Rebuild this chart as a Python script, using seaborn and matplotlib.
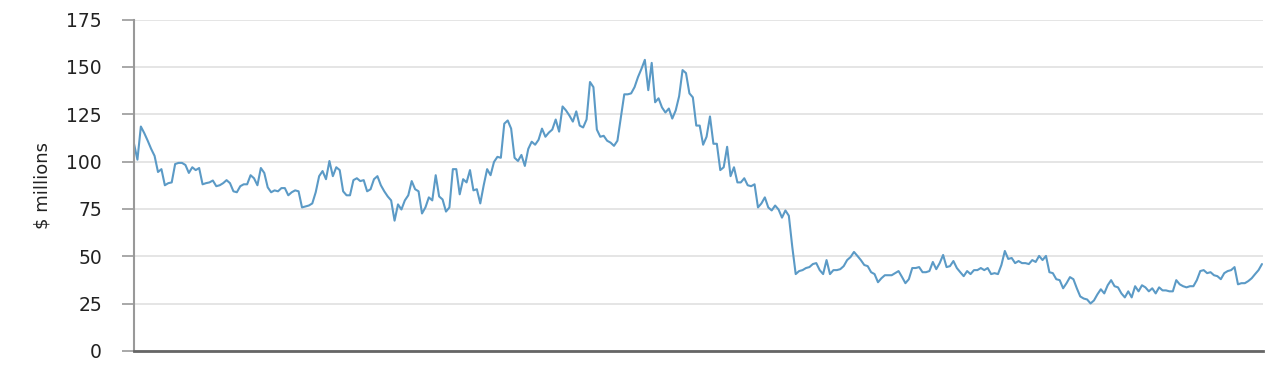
import matplotlib
matplotlib.use("Agg")
import matplotlib.pyplot as plt
import seaborn as sns
import pandas as pd
import numpy as np

values = [
    109.4, 101.0, 118.5, 115.0, 111.0, 106.7, 103.0, 94.5, 96.0, 87.5,
    88.6, 89.0, 98.7, 99.3, 99.3, 98.2, 94.0, 97.0, 95.5, 96.6,
    88.0, 88.6, 89.0, 90.0, 87.0, 87.5, 88.6, 90.2, 88.6, 84.3,
    83.8, 87.0, 88.0, 88.0, 92.8, 91.2, 87.5, 96.6, 94.0, 86.4,
    83.8, 84.8, 84.3, 86.0, 86.0, 82.2, 83.8, 84.8, 84.3, 75.8,
    76.3, 76.8, 77.9, 83.8, 92.3, 95.0, 90.7, 100.3, 92.3, 97.0,
    95.5, 84.3, 82.2, 82.2, 90.2, 91.2, 89.7, 90.2, 84.3, 85.4,
    90.7, 92.3, 87.5, 84.3, 81.6, 79.5, 68.8, 77.4, 74.7, 79.5,
    82.2, 89.7, 85.4, 84.3, 72.6, 75.8, 81.1, 79.5, 92.8, 81.6,
    80.0, 73.6, 75.8, 96.0, 96.0, 82.7, 90.7, 89.0, 95.5, 84.8,
    85.4, 77.9, 87.5, 96.0, 92.8, 99.8, 102.5, 102.0, 120.0, 121.7,
    117.4, 102.0, 100.3, 103.5, 97.7, 106.7, 110.5, 108.9, 111.5, 117.4,
    113.1, 115.3, 116.9, 122.2, 115.8, 129.1, 127.0, 124.3, 121.1, 126.5,
    119.0, 118.0, 122.2, 142.0, 139.3, 116.9, 113.1, 113.6, 111.0, 110.0,
    108.3, 111.0, 123.3, 135.5, 135.5, 136.0, 139.3, 144.6, 148.9, 153.7,
    137.7, 152.1, 131.3, 133.4, 128.6, 125.9, 128.0, 122.7, 127.0, 134.5,
    148.3, 146.7, 136.0, 133.9, 119.0, 119.0, 108.9, 113.1, 123.8, 109.4,
    109.4, 95.5, 97.0, 107.8, 92.3, 97.0, 89.0, 89.0, 91.2, 87.5,
    87.0, 88.0, 75.8, 77.9, 81.1, 75.8, 74.2, 76.8, 74.7, 70.4,
    74.2, 71.4, 55.0, 40.6, 42.2, 42.7, 43.8, 44.3, 45.9, 46.4,
    42.7, 40.6, 48.0, 40.6, 42.7, 42.7, 43.2, 44.8, 48.0, 49.6,
    52.3, 50.2, 48.0, 45.4, 44.8, 41.6, 40.6, 36.3, 38.4, 40.0,
    40.0, 40.0, 41.1, 42.2, 39.1, 35.8, 37.9, 43.8, 43.8, 44.3,
    41.6, 41.6, 42.2, 47.0, 43.2, 46.4, 50.7, 44.3, 44.8, 47.5,
    43.8, 41.6, 39.5, 42.2, 40.6, 42.7, 42.7, 43.8, 42.7, 43.8,
    40.6, 41.1, 40.6, 45.4, 52.8, 48.6, 49.1, 46.4, 47.5, 46.4,
    46.4, 45.9, 48.0, 47.0, 50.2, 48.0, 50.2, 41.6, 41.1, 37.9,
    37.4, 33.1, 35.8, 39.0, 37.9, 33.1, 28.8, 27.7, 27.2, 25.1,
    26.7, 29.9, 32.6, 30.4, 34.7, 37.4, 34.2, 33.6, 30.4, 28.3,
    31.5, 28.3, 34.2, 31.5, 34.7, 33.6, 31.5, 33.1, 30.4, 33.6,
    32.0, 32.0, 31.5, 31.5, 37.4, 35.2, 34.2, 33.6, 34.2, 34.2,
    37.4, 42.2, 42.7, 41.1, 41.6, 40.0, 39.5, 37.9, 41.1, 42.2,
    42.7, 44.3, 35.2, 35.8, 35.8, 36.9, 38.4, 40.6, 42.7, 45.9,
]
y_ticks = [0, 25, 50, 75, 100, 125, 150, 175]
y_label = "$ millions"

df = pd.DataFrame({"t": np.arange(len(values)), "value": values})

sns.set_theme(style="white")
plt.rcParams["font.family"] = ["DejaVu Sans"]

fig = plt.figure(figsize=(12.84, 3.70), dpi=100)
ax = fig.add_axes([134 / 1284, 1 - 351 / 370, (1263 - 134) / 1284, (351 - 19.5) / 370])

sns.lineplot(data=df, x="t", y="value", ax=ax, color="#5b9ac6", linewidth=1.5)

ax.set_xlim(0, len(values) - 1 + 0.3)
ax.set_ylim(0, 175)
ax.set_yticks(y_ticks)
ax.set_yticklabels([str(v) for v in y_ticks], fontsize=13.5, color="#222222")
ax.set_xticks([])
ax.set_xlabel("")
ax.set_ylabel(y_label, fontsize=13, color="#222222", labelpad=11)

ax.grid(axis="y", color="#e3e3e3", linewidth=1.3)
ax.set_axisbelow(True)
for s in ["top", "right"]:
    ax.spines[s].set_visible(False)
ax.spines["left"].set_color("#999999")
ax.spines["left"].set_linewidth(1.5)
ax.spines["bottom"].set_color("#666666")
ax.spines["bottom"].set_linewidth(2)
ax.tick_params(axis="y", length=8.6, width=1.2, color="#999999", pad=14.4, left=True)

fig.savefig("out.png", dpi=100)
